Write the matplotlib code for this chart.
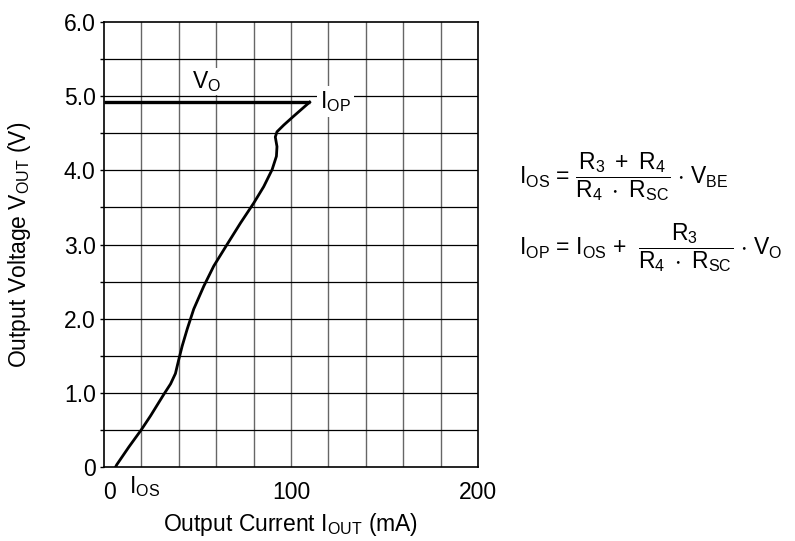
import numpy as np
import matplotlib
matplotlib.use("Agg")
import matplotlib.pyplot as plt
import matplotlib.transforms as mtransforms

plt.rcParams['font.family'] = ['Liberation Sans', 'DejaVu Sans']
plt.rcParams['mathtext.fontset'] = 'custom'
plt.rcParams['mathtext.rm'] = 'Liberation Sans'
plt.rcParams['mathtext.it'] = 'Liberation Sans'
plt.rcParams['mathtext.default'] = 'regular'

# foldback characteristic
i_out = [110.0, 101.4, 96.1, 92.5, 91.6, 92.5, 92.2, 89.9, 85.4, 80.1, 73.0, 65.8, 58.7,
         53.4, 48.0, 44.5, 41.8, 40.0, 38.2, 35.6, 32.0, 24.9, 19.9, 13.3, 6.8, 6.2]
v_out = [4.92, 4.73, 4.61, 4.52, 4.45, 4.32, 4.19, 4.01, 3.78, 3.56, 3.29, 3.00, 2.71,
         2.44, 2.13, 1.86, 1.63, 1.45, 1.26, 1.12, 0.98, 0.69, 0.50, 0.27, 0.03, 0.0]
v_o = 4.92
i_op = 110.0

x_ticks = [0, 100, 200]
x_labels = ['0', '100', '200']
y_ticks = [0, 1, 2, 3, 4, 5, 6]
y_labels = ['0', '1.0', '2.0', '3.0', '4.0', '5.0', '6.0']

fs = 16.5

fig = plt.figure(figsize=(7.95, 5.41), dpi=100)
ax = fig.add_axes([0.1308, 0.1368, 0.4705, 0.8225])

# grid
for x in np.arange(20, 200, 20):
    ax.axvline(x, color='#666666', lw=1.0, zorder=1)
for y in np.arange(0.5, 6.0, 0.5):
    ax.axhline(y, color='black', lw=0.9, zorder=1)

ax.plot([0, i_op], [v_o, v_o], color='black', lw=2.4, zorder=3, solid_capstyle='butt')
ax.plot(i_out, v_out, color='black', lw=2.0, zorder=3, solid_joinstyle='round')

ax.set_xlim(0, 200)
ax.set_ylim(0, 6)
ax.set_xticks(x_ticks)
ax.set_xticklabels(x_labels)
ax.set_yticks(y_ticks)
ax.set_yticklabels(y_labels)
ax.set_yticks(np.arange(0.5, 6.0, 1.0), minor=True)
ax.tick_params(axis='both', which='both', direction='out', length=3, width=1, labelsize=fs, pad=3)
ax.tick_params(axis='x', length=0, pad=10)
# the "0" under the axis sits a little right of the corner
ax.get_xticklabels()[0].set_transform(
    ax.get_xticklabels()[0].get_transform() + mtransforms.ScaledTranslation(6 / 100, 0, fig.dpi_scale_trans))
for s in ax.spines.values():
    s.set_linewidth(1.2)

ax.set_xlabel('Output Current I$_{OUT}$ (mA)', fontsize=fs)
ax.set_ylabel('Output Voltage V$_{OUT}$ (V)', fontsize=fs)
ax.xaxis.set_label_coords(0.5, -0.10)
ax.yaxis.set_label_coords(-0.19, 0.5)

ax.text(55, 5.03, 'V$_O$', fontsize=fs, ha='center', va='bottom',
        bbox=dict(facecolor='white', edgecolor='none', pad=1), zorder=2)
ax.text(115.5, 4.93, 'I$_{OP}$', fontsize=fs, ha='left', va='center',
        bbox=dict(facecolor='white', edgecolor='none', pad=2), zorder=2)
ax.text(21.5, -0.1, 'I$_{OS}$', fontsize=fs, ha='center', va='top')

fig.text(0.653, 0.673,
         r'I$_{OS}$ = $\dfrac{R_3\ +\ R_4}{R_4\ \cdot\ R_{SC}}$ $\cdot$ V$_{BE}$',
         fontsize=fs, ha='left', va='center')
fig.text(0.653, 0.542,
         r'I$_{OP}$ = I$_{OS}$ +  $\dfrac{R_3}{R_4\ \cdot\ R_{SC}}$ $\cdot$ V$_O$',
         fontsize=fs, ha='left', va='center')

fig.savefig('out.png', dpi=100)
